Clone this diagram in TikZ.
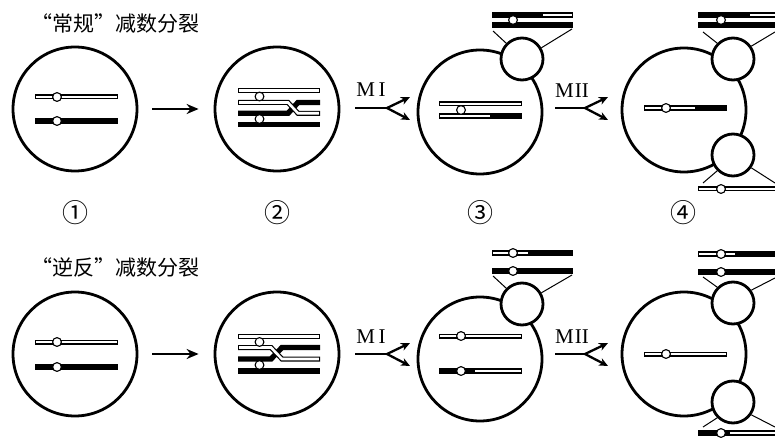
\documentclass[tikz,border=0pt]{standalone}
\usepackage{fontspec}
\setmainfont{Liberation Serif}
\newfontfamily\cjk[RawFeature=+fwid]{Noto Sans CJK SC}
\newfontfamily\cjknum{Noto Sans CJK SC}
\usetikzlibrary{arrows.meta}

% hollow chromatid from x=#1 to x=#2 at height #3
\newcommand\chrw[3]{%
  \fill[black] (#1,#3-2.5) rectangle (#2,#3+2.5);
  \fill[white] (#1+1.1,#3-1.3) rectangle (#2-1.1,#3+1.3);}
% solid chromatid
\newcommand\chrb[3]{\fill[black] (#1,#3-2.7) rectangle (#2,#3+2.7);}
% hollow from #1 to #2, solid from #2 to #3, at height #4
\newcommand\chrwb[4]{%
  \fill[black] (#1,#4-2.6) rectangle (#3,#4+2.6);
  \fill[white] (#1+1.1,#4-1.3) rectangle (#2,#4+1.3);}
% solid from #1 to #2, hollow from #2 to #3, at height #4
\newcommand\chrbw[4]{%
  \fill[black] (#1,#4-2.6) rectangle (#3,#4+2.6);
  \fill[white] (#2,#4-1.3) rectangle (#3-1.1,#4+1.3);}
% centromere
\newcommand\cmere[2]{\draw[line width=1.1pt, fill=white] (#1,#2) circle[radius=4.4pt];}

\tikzset{
  cell/.style={circle, draw, line width=2.8pt, minimum size=124pt, inner sep=0pt},
  polar/.style={circle, draw, fill=white, line width=2.8pt, minimum size=42pt, inner sep=0pt},
  flow/.style={line width=2.5pt, -{Stealth[length=12pt,width=10pt]}},
  forkline/.style={line width=2.5pt},
  forktip/.style={line width=2.3pt, -{Stealth[length=9pt,width=8pt]}},
  link/.style={line width=1pt},
  title/.style={font=\cjk\fontsize{21}{21}\selectfont, anchor=west, inner sep=0pt},
  numlabel/.style={font=\cjknum\fontsize{26}{26}\selectfont, inner sep=0pt},
  phase/.style={font=\fontsize{21}{21}\selectfont, inner sep=0pt},
}

\begin{document}
\begin{tikzpicture}[x=1pt,y=-1pt]
\useasboundingbox (0,0) rectangle (775,438);

% ---------- titles ----------
\node[title] (t1) at (31,23) {“常规”减数分裂};
\node[title] (t2) at (31,267) {“逆反”减数分裂};

% ---------- cells ----------
\node[cell] (a1) at (75,109) {};
\node[cell] (a2) at (277,109) {};
\node[cell] (a3) at (480,112) {};
\node[cell] (a4) at (684,110) {};
\node[polar] (p3) at (522,59) {};
\node[polar] (q4) at (733,59) {};
\node[polar] (r4) at (733,155) {};

\node[cell] (b1) at (75,354) {};
\node[cell] (b2) at (277,354) {};
\node[cell] (b3) at (480,359) {};
\node[cell] (b4) at (684,354) {};
\node[polar] (u3) at (522,304) {};
\node[polar] (v4) at (733,303) {};
\node[polar] (w4) at (733,402) {};

% ---------- row 1 chromosomes ----------
\chrw{35}{118}{97}  \cmere{57}{97}
\chrb{35}{118}{121} \cmere{57}{121}

\chrw{238}{320}{90.5}
\draw[line width=5.4pt] (238,113.3) -- (288,113.3) -- (298,102.5) -- (320,102.5);
\draw[line width=5pt] (238,102.5) -- (288,102.5) -- (298,113.3) -- (320,113.3);
\draw[white, line width=2.6pt] (239.1,102.5) -- (288,102.5) -- (298,113.3) -- (318.9,113.3);
\chrb{238}{320}{124.3}
\cmere{259.5}{96.5} \cmere{259.5}{119}

\chrw{439}{522}{104}
\chrwb{439}{490}{522}{116}
\cmere{461}{110}
\chrbw{492}{543}{573}{15}
\chrb{492}{573}{25}
\cmere{513}{20}
\coordinate (p3l) at (493,31);
\coordinate (p3r) at (572,29);
\draw[link] (p3l) -- (p3.135);
\draw[link] (p3r) -- (p3.30);

\chrwb{644}{695}{727}{108} \cmere{666}{108}
\chrbw{698}{750}{780}{15}
\chrb{698}{780}{25}
\cmere{721}{20}
\coordinate (q4l) at (703,32);
\coordinate (q4r) at (775,32);
\draw[link] (q4l) -- (q4.135);
\draw[link] (q4r) -- (q4.35);
\chrw{698}{780}{189} \cmere{721}{189}
\coordinate (r4l) at (703,183);
\coordinate (r4r) at (775,183);
\draw[link] (r4l) -- (r4.225);
\draw[link] (r4r) -- (r4.325);

% ---------- row 2 chromosomes ----------
\chrw{35}{118}{342}  \cmere{57}{342}
\chrb{35}{118}{367}  \cmere{57}{367}

\chrw{238}{320}{336.5}
\draw[line width=5.4pt] (238,359) -- (271,359) -- (282,347.5) -- (320,347.5);
\draw[line width=5pt] (238,347.5) -- (271,347.5) -- (282,359) -- (320,359);
\draw[white, line width=2.6pt] (239.1,347.5) -- (271,347.5) -- (282,359) -- (318.9,359);
\chrb{238}{320}{371}
\cmere{259.5}{342} \cmere{259.5}{365}

\chrw{439}{522}{336} \cmere{461}{336}
\chrbw{439}{475}{522}{371} \cmere{461}{371}
\chrwb{492}{528}{573}{253} \cmere{513}{253}
\chrb{492}{573}{271} \cmere{513}{271}
\coordinate (u3l) at (493,276);
\coordinate (u3r) at (572,275);
\draw[link] (u3l) -- (u3.135);
\draw[link] (u3r) -- (u3.30);

\chrw{644}{727}{354} \cmere{666}{354}
\chrwb{698}{735}{780}{254} \cmere{721}{254}
\chrb{698}{780}{272} \cmere{721}{272}
\coordinate (v4l) at (703,277);
\coordinate (v4r) at (775,278);
\draw[link] (v4l) -- (v4.135);
\draw[link] (v4r) -- (v4.35);
\chrbw{698}{730}{780}{433} \cmere{721}{433}
\coordinate (w4l) at (703,427);
\coordinate (w4r) at (775,427);
\draw[link] (w4l) -- (w4.225);
\draw[link] (w4r) -- (w4.325);

% ---------- arrows ----------
\draw[flow, shorten <=14pt, shorten >=15pt] (a1.east) -- (a2.west);
\draw[flow, shorten <=14pt, shorten >=15pt] (b1.east) -- (b2.west);

% meiosis I / II forks, row 1
\coordinate (m1s) at (355,108);  \coordinate (m1k) at (387,108);
\coordinate (m1u) at (410,97);   \coordinate (m1d) at (410,120);
\draw[forkline] (m1s) -- (m1k);
\draw[forktip] (m1k) -- (m1u);
\draw[forktip] (m1k) -- (m1d);
\node[phase] (l1) at (371,90) {M\,I};

\coordinate (m2s) at (555,108);  \coordinate (m2k) at (585,108);
\coordinate (m2u) at (608,97);   \coordinate (m2d) at (608,120);
\draw[forkline] (m2s) -- (m2k);
\draw[forktip] (m2k) -- (m2u);
\draw[forktip] (m2k) -- (m2d);
\node[phase] (l2) at (572,91) {M\kern1pt II};

% meiosis I / II forks, row 2
\coordinate (n1s) at (355,354);  \coordinate (n1k) at (387,354);
\coordinate (n1u) at (410,343);  \coordinate (n1d) at (410,366);
\draw[forkline] (n1s) -- (n1k);
\draw[forktip] (n1k) -- (n1u);
\draw[forktip] (n1k) -- (n1d);
\node[phase] (l3) at (371,337) {M\,I};

\coordinate (n2s) at (555,354);  \coordinate (n2k) at (585,354);
\coordinate (n2u) at (608,343);  \coordinate (n2d) at (608,366);
\draw[forkline] (n2s) -- (n2k);
\draw[forktip] (n2k) -- (n2u);
\draw[forktip] (n2k) -- (n2d);
\node[phase] (l4) at (572,337) {M\kern1pt II};

% ---------- stage numbers ----------
\node[numlabel] (s1) at (75,213) {①};
\node[numlabel] (s2) at (277,213) {②};
\node[numlabel] (s3) at (480,213) {③};
\node[numlabel] (s4) at (683,213) {④};
\end{tikzpicture}
\end{document}
